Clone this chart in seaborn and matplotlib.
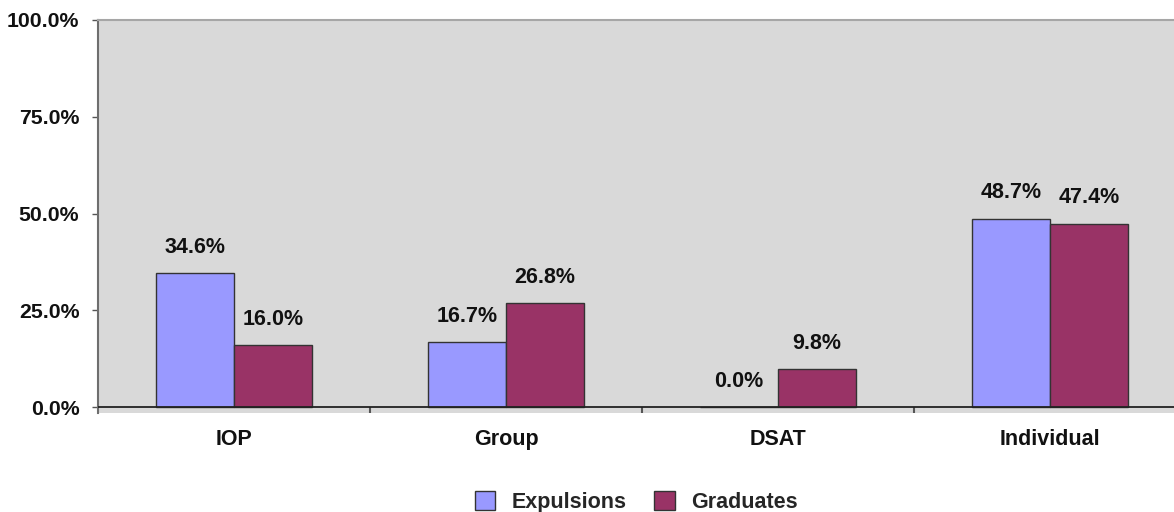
import matplotlib
matplotlib.use("Agg")
import matplotlib.pyplot as plt
from matplotlib.ticker import FixedLocator, FuncFormatter
from matplotlib.patches import Patch
import seaborn as sns
import pandas as pd

# Share of each program type, per outcome group (percent)
categories = ["IOP", "Group", "DSAT", "Individual"]
expulsions = [34.6, 16.7, 0.0, 48.7]
graduates = [16.0, 26.8, 9.8, 47.4]
series_names = ["Expulsions", "Graduates"]
series_colors = ["#9999FF", "#993366"]
y_ticks = [0, 25, 50, 75, 100]

df = pd.DataFrame({
    "program": categories * 2,
    "share": expulsions + graduates,
    "outcome": [series_names[0]] * len(categories) + [series_names[1]] * len(categories),
})

sns.set_theme(style="white")
plt.rcParams["font.family"] = ["Liberation Sans", "DejaVu Sans"]
plt.rcParams["font.weight"] = "bold"

FS = 15.5
W, H = 1174, 512
fig = plt.figure(figsize=(W / 100, H / 100), dpi=100)
left, right, top, bottom = 98, 1186, 20, 413
ax = fig.add_axes([left / W, 1 - bottom / H, (right - left) / W, (bottom - top) / H])
ax.set_facecolor("#D9D9D9")

sns.barplot(
    data=df, x="program", y="share", hue="outcome",
    order=categories, hue_order=series_names,
    palette=series_colors, width=0.574, gap=0,
    edgecolor="#333333", linewidth=1.0, saturation=1,
    legend=False, ax=ax,
)

for cont in ax.containers:
    ax.bar_label(cont, fmt="{:.1f}%", padding=11, fontsize=FS, fontweight="bold",
                 color="#111111")

ax.set_xlim(-0.5, len(categories) - 0.5)
ax.set_ylim(-1.55, 100)
ax.axhline(0, color="#222222", linewidth=1.3, zorder=3)

ax.yaxis.set_major_locator(FixedLocator(y_ticks))
ax.yaxis.set_major_formatter(FuncFormatter(lambda v, p: f"{v:.1f}%"))
ax.tick_params(axis="y", which="major", left=True, length=4.5, width=1,
               color="#555555", pad=9, labelsize=15.3)

ax.set_xticks(range(len(categories)))
ax.set_xticklabels(categories)
ax.tick_params(axis="x", which="major", length=0, pad=11.5, labelsize=FS)
ax.set_xticks([i + 0.5 for i in range(len(categories) - 1)], minor=True)
ax.tick_params(axis="x", which="minor", bottom=True, direction="in",
               length=4.5, width=1.5, color="#555555")

for lab in ax.get_xticklabels() + ax.get_yticklabels():
    lab.set_fontweight("bold")
    lab.set_color("#111111")

ax.set_xlabel("")
ax.set_ylabel("")

ax.spines["left"].set_color("#6E6E6E")
ax.spines["left"].set_linewidth(1.5)
ax.spines["top"].set_color("#A6A6A6")
ax.spines["top"].set_linewidth(1.5)
ax.spines["bottom"].set_visible(False)
ax.spines["right"].set_visible(False)

handles = [Patch(facecolor=c, edgecolor="#333333", linewidth=1.0) for c in series_colors]
fig.legend(handles, series_names, loc="center", bbox_to_anchor=(636 / W, 1 - 502 / H),
           ncol=2, frameon=False, handlelength=0.95, handleheight=0.95,
           handletextpad=0.75, columnspacing=1.3, prop={"weight": "bold", "size": FS})

fig.savefig("out.png", dpi=100)
